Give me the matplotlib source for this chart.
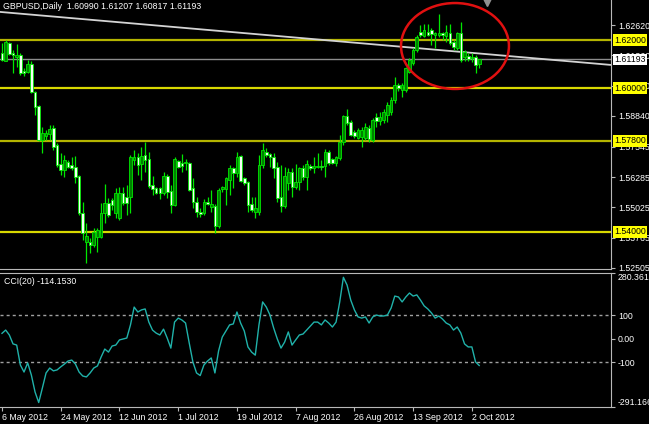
import numpy as np
import pandas as pd
import matplotlib
matplotlib.use("Agg")
import matplotlib.pyplot as plt
import matplotlib.transforms as mtransforms
from matplotlib.patches import Ellipse

plt.rcParams['font.family'] = ['Liberation Sans', 'DejaVu Sans']

SYMBOL_TEXT = "GBPUSD,Daily  1.60990 1.61207 1.60817 1.61193"
CCI_TEXT = "CCI(20) -114.1530"

# daily bars (Sunday bars included)
OPEN = [1.6147, 1.6114, 1.6189, 1.6146, 1.6129, 1.6138, 1.6072, 1.6067, 1.6100, 1.5983,
        1.5925, 1.5783, 1.5800, 1.5808, 1.5833, 1.5763, 1.5683, 1.5658, 1.5692, 1.5679,
        1.5671, 1.5633, 1.5479, 1.5358, 1.5358, 1.5346, 1.5379, 1.5379, 1.5479, 1.5521,
        1.5533, 1.5479, 1.5458, 1.5563, 1.5546, 1.5546, 1.5700, 1.5713, 1.5683, 1.5721,
        1.5704, 1.5596, 1.5583, 1.5583, 1.5563, 1.5633, 1.5571, 1.5513, 1.5696, 1.5688,
        1.5688, 1.5688, 1.5583, 1.5525, 1.5483, 1.5479, 1.5525, 1.5504, 1.5508, 1.5425,
        1.5579, 1.5579, 1.5617, 1.5667, 1.5646, 1.5717, 1.5625, 1.5608, 1.5517, 1.5483,
        1.5483, 1.5679, 1.5733, 1.5725, 1.5713, 1.5671, 1.5546, 1.5508, 1.5604, 1.5650,
        1.5588, 1.5608, 1.5667, 1.5629, 1.5675, 1.5667, 1.5671, 1.5675, 1.5675, 1.5733,
        1.5704, 1.5688, 1.5708, 1.5775, 1.5883, 1.5858, 1.5817, 1.5792, 1.5796, 1.5792,
        1.5833, 1.5783, 1.5879, 1.5863, 1.5867, 1.5888, 1.5900, 1.5950, 1.6013, 1.5992,
        1.5992, 1.6067, 1.6104, 1.6158, 1.6233, 1.6217, 1.6233, 1.6242, 1.6221, 1.6221,
        1.6229, 1.6217, 1.6229, 1.6192, 1.6167, 1.6229, 1.6129, 1.6133, 1.6125, 1.6129,
        1.60990]
HIGH = [1.6188, 1.6200, 1.6193, 1.6158, 1.6183, 1.6146, 1.6083, 1.6117, 1.6114, 1.5988,
        1.5929, 1.5838, 1.5825, 1.5846, 1.5846, 1.5771, 1.5729, 1.5721, 1.5700, 1.5713,
        1.5717, 1.5638, 1.5525, 1.5438, 1.5375, 1.5417, 1.5417, 1.5521, 1.5600, 1.5542,
        1.5542, 1.5583, 1.5588, 1.5588, 1.5596, 1.5721, 1.5742, 1.5729, 1.5754, 1.5775,
        1.5733, 1.5633, 1.5588, 1.5588, 1.5650, 1.5642, 1.5596, 1.5713, 1.5700, 1.5725,
        1.5704, 1.5690, 1.5625, 1.5546, 1.5500, 1.5538, 1.5546, 1.5575, 1.5517, 1.5583,
        1.5592, 1.5629, 1.5679, 1.5671, 1.5733, 1.5720, 1.5629, 1.5613, 1.5546, 1.5546,
        1.5721, 1.5771, 1.5750, 1.5729, 1.5729, 1.5692, 1.5679, 1.5671, 1.5667, 1.5667,
        1.5683, 1.5671, 1.5679, 1.5700, 1.5683, 1.5713, 1.5729, 1.5700, 1.5746, 1.5742,
        1.5708, 1.5717, 1.5804, 1.5888, 1.5913, 1.5867, 1.5825, 1.5833, 1.5838, 1.5854,
        1.5846, 1.5875, 1.5896, 1.5900, 1.5913, 1.5942, 1.5963, 1.6046, 1.6021, 1.6021,
        1.6088, 1.6125, 1.6167, 1.6221, 1.6263, 1.6267, 1.6267, 1.6250, 1.6233, 1.6308,
        1.6233, 1.6263, 1.6267, 1.6200, 1.6233, 1.6275, 1.6158, 1.6146, 1.6146, 1.6138,
        1.61207]
LOW = [1.6113, 1.6112, 1.6138, 1.6063, 1.6088, 1.6054, 1.6050, 1.6063, 1.5979, 1.5888,
       1.5779, 1.5729, 1.5783, 1.5783, 1.5742, 1.5671, 1.5638, 1.5629, 1.5667, 1.5658,
       1.5604, 1.5471, 1.5367, 1.5271, 1.5313, 1.5338, 1.5317, 1.5375, 1.5438, 1.5463,
       1.5492, 1.5458, 1.5450, 1.5513, 1.5471, 1.5479, 1.5679, 1.5638, 1.5617, 1.5650,
       1.5583, 1.5554, 1.5558, 1.5538, 1.5554, 1.5542, 1.5479, 1.5508, 1.5667, 1.5650,
       1.5658, 1.5571, 1.5500, 1.5463, 1.5463, 1.5471, 1.5513, 1.5483, 1.5396, 1.5417,
       1.5567, 1.5513, 1.5554, 1.5583, 1.5629, 1.5608, 1.5596, 1.5483, 1.5483, 1.5458,
       1.5471, 1.5667, 1.5713, 1.5671, 1.5625, 1.5525, 1.5483, 1.5500, 1.5575, 1.5546,
       1.5579, 1.5575, 1.5617, 1.5575, 1.5658, 1.5646, 1.5667, 1.5658, 1.5629, 1.5679,
       1.5683, 1.5675, 1.5700, 1.5763, 1.5846, 1.5800, 1.5792, 1.5788, 1.5754, 1.5783,
       1.5775, 1.5775, 1.5838, 1.5846, 1.5854, 1.5858, 1.5888, 1.5938, 1.5988, 1.5963,
       1.5983, 1.6063, 1.6096, 1.6150, 1.6213, 1.6213, 1.6217, 1.6179, 1.6167, 1.6213,
       1.6200, 1.6192, 1.6179, 1.6158, 1.6158, 1.6108, 1.6113, 1.6113, 1.6108, 1.6063,
       1.60817]
CLOSE = [1.6117, 1.6193, 1.6142, 1.6138, 1.6138, 1.6063, 1.6061, 1.6100, 1.5983, 1.5921,
         1.5783, 1.5813, 1.5813, 1.5829, 1.5754, 1.5679, 1.5658, 1.5700, 1.5671, 1.5667,
         1.5629, 1.5479, 1.5396, 1.5383, 1.5346, 1.5400, 1.5408, 1.5479, 1.5521, 1.5471,
         1.5513, 1.5563, 1.5563, 1.5521, 1.5521, 1.5713, 1.5713, 1.5679, 1.5717, 1.5700,
         1.5592, 1.5579, 1.5563, 1.5563, 1.5633, 1.5567, 1.5513, 1.5704, 1.5671, 1.5675,
         1.5692, 1.5575, 1.5525, 1.5483, 1.5475, 1.5525, 1.5517, 1.5517, 1.5425, 1.5575,
         1.5588, 1.5625, 1.5667, 1.5646, 1.5713, 1.5613, 1.5604, 1.5513, 1.5492, 1.5500,
         1.5679, 1.5742, 1.5721, 1.5713, 1.5667, 1.5542, 1.5508, 1.5633, 1.5650, 1.5588,
         1.5608, 1.5667, 1.5629, 1.5683, 1.5667, 1.5675, 1.5675, 1.5671, 1.5733, 1.5688,
         1.5688, 1.5713, 1.5775, 1.5883, 1.5854, 1.5804, 1.5800, 1.5825, 1.5825, 1.5838,
         1.5788, 1.5867, 1.5863, 1.5879, 1.5900, 1.5929, 1.5950, 1.6013, 1.6000, 1.6013,
         1.6083, 1.6117, 1.6158, 1.6213, 1.6221, 1.6242, 1.6221, 1.6225, 1.6229, 1.6229,
         1.6221, 1.6233, 1.6188, 1.6171, 1.6229, 1.6117, 1.6150, 1.6121, 1.6129, 1.6096,
         1.61193]

CCI = [23, 37, 16, -22, -27, -112, -142, -103, -155, -227,
       -272, -210, -146, -125, -137, -133, -120, -108, -95, -91,
       -108, -142, -159, -163, -146, -125, -116, -78, -44, -57,
       -31, -27, -5, -1, 3, 59, 135, 114, 123, 127,
       71, 37, 24, 16, 41, 3, -40, 71, 88, 80,
       67, -18, -99, -146, -157, -112, -95, -82, -146, -52,
       7, 33, 59, 63, 114, 67, 33, -35, -57, -70,
       59, 157, 135, 101, 46, -1, -40, -14, 29, -27,
       -5, 16, 20, 37, 54, 71, 71, 59, 80, 67,
       50, 71, 157, 262, 229, 165, 123, 93, 88, 93,
       67, 93, 101, 97, 97, 101, 131, 182, 178, 157,
       178, 195, 182, 187, 165, 140, 127, 110, 88, 97,
       84, 67, 59, 37, 50, 24, -22, -35, -35, -99,
       -114.153]

LEVELS = [1.62000, 1.60000, 1.57800, 1.54000]
BID = 1.61193
PRICE_TICKS = [1.62620, 1.61360, 1.60100, 1.58840, 1.57545, 1.56285, 1.55025, 1.53765, 1.52505]
PRICE_MIN, PRICE_MAX = 1.52458, 1.63667
CCI_TICKS = [280.3617, 100, 0, -100, -291.166]
CCI_TICK_LABELS = ["280.3617", "100", "0.00", "-100", "-291.166"]
TREND_X = [-0.5, 166]
TREND_Y = [1.6317, 1.6096]
CIRCLE = (123.4, 1.6175, 29.4, 0.0358)   # x, y, width, height

n = len(CLOSE)
x = np.arange(n)
o, h, l, c = map(np.array, (OPEN, HIGH, LOW, CLOSE))

days = pd.date_range("2012-05-06", "2012-10-20", freq="D")
days = days[days.dayofweek != 5][:n]
date_idx = list(range(0, n, 16))
date_labels = [f"{days[i].day} {days[i].strftime('%b %Y')}" for i in date_idx]

W, H = 649, 424
fig = plt.figure(figsize=(W / 100, H / 100), dpi=100, facecolor="black")
ax = fig.add_axes([0, (H - 269) / H, 611 / W, 269 / H], facecolor="black")
ax2 = fig.add_axes([0, (H - 407) / H, 611 / W, 134 / H], facecolor="black")

fs = 6.3
edge = "#b8b8b8"
lime = "#00e800"

# price panel
for lv, col in zip(LEVELS, ["#b4b400", "#d8d800", "#b4b400", "#d8d800"]):
    ax.axhline(lv, color=col, lw=1.6, zorder=1)
ax.axhline(BID, color="#8c8c8c", lw=1, zorder=1)
ax.plot(TREND_X, TREND_Y, color="#d4d4d4", lw=1.3, zorder=1)

up = c >= o
ax.vlines(x, l, h, color=lime, lw=0.9, zorder=2)
ax.bar(x[up], np.maximum(c[up] - o[up], 0.00004), bottom=o[up], width=0.72,
       color="#008000", edgecolor=lime, lw=0.6, zorder=3)
ax.bar(x[~up], np.maximum(o[~up] - c[~up], 0.00004), bottom=c[~up], width=0.72,
       color="#f4fff4", edgecolor=lime, lw=0.6, zorder=3)

ax.add_patch(Ellipse((CIRCLE[0], CIRCLE[1]), CIRCLE[2], CIRCLE[3], fill=False,
                     ec="#e01010", lw=1.8, zorder=4))

ax.plot([132.1], [PRICE_MAX - 0.0009], marker="v", ms=6, color="#909090",
        clip_on=False, zorder=5)

ax.set_xlim(-0.545, 165.9)
ax.set_ylim(PRICE_MIN, PRICE_MAX)
ax.set_xticks([])
ax.yaxis.tick_right()
ax.set_yticks(PRICE_TICKS)
ax.set_yticklabels([f"{v:.5f}" for v in PRICE_TICKS])
ax.tick_params(axis="y", length=3, pad=2, color=edge, labelcolor="white", labelsize=fs)
for s in ["top", "left"]:
    ax.spines[s].set_visible(False)
for s in ["right", "bottom"]:
    ax.spines[s].set_color(edge)

tr = mtransforms.blended_transform_factory(ax.transAxes, ax.transData)
for lv in LEVELS:
    ax.text(1.0 + 3 / 611, lv, f"{lv:.5f}", transform=tr, ha="left", va="center",
            fontsize=fs, color="black", clip_on=False, zorder=6,
            bbox=dict(boxstyle="square,pad=0.15", fc="#ffff00", ec="none"))
ax.text(1.0 + 3 / 611, BID, f"{BID:.5f}", transform=tr, ha="left", va="center",
        fontsize=fs, color="black", clip_on=False, zorder=6,
        bbox=dict(boxstyle="square,pad=0.15", fc="white", ec="none"))

ax.text(3 / 611, 1 - 2 / 269, SYMBOL_TEXT, transform=ax.transAxes, ha="left", va="top",
        fontsize=fs, color="white")

# CCI panel
ax2.axhline(100, color="#a0a0a0", lw=1, ls=(0, (2.2, 2.2)))
ax2.axhline(-100, color="#a0a0a0", lw=1, ls=(0, (2.2, 2.2)))
ax2.plot(x, CCI, color="#20b2aa", lw=1)
ax2.set_xlim(-0.545, 165.9)
ax2.set_ylim(CCI_TICKS[-1], CCI_TICKS[0])
ax2.yaxis.tick_right()
ax2.set_yticks(CCI_TICKS)
ax2.set_yticklabels(CCI_TICK_LABELS)
ax2.tick_params(axis="y", length=3, pad=2, color=edge, labelcolor="white", labelsize=fs)
ylabels = ax2.get_yticklabels()
ylabels[0].set_va("top")
ylabels[-1].set_va("bottom")
ax2.set_xticks(date_idx)
ax2.set_xticklabels(date_labels)
ax2.tick_params(axis="x", length=3, pad=1, color=edge, labelcolor="white", labelsize=fs)
for lab in ax2.get_xticklabels():
    lab.set_ha("left")
ax2.spines["left"].set_visible(False)
for s in ["top", "right", "bottom"]:
    ax2.spines[s].set_color(edge)
ax2.text(4 / 611, 1 - 4 / 134, CCI_TEXT, transform=ax2.transAxes, ha="left", va="top",
         fontsize=fs, color="white")

fig.savefig("out.png", dpi=100, facecolor="black")
